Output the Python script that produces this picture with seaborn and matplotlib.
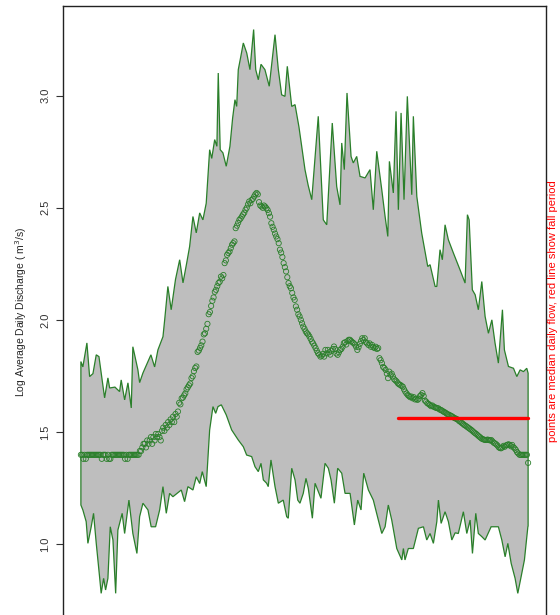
import numpy as np
import pandas as pd
import matplotlib
matplotlib.use("Agg")
import matplotlib.pyplot as plt
import seaborn as sns

# ---- daily median of log10 discharge (day 1 .. 365) ----
median_flow = [
    1.398, 1.398, 1.380, 1.398, 1.380, 1.398, 1.398, 1.398, 1.398, 1.398,
    1.398, 1.398, 1.398, 1.398, 1.398, 1.398, 1.398, 1.380, 1.398, 1.398,
    1.398, 1.380, 1.398, 1.380, 1.380, 1.398, 1.398, 1.398, 1.398, 1.398,
    1.398, 1.398, 1.398, 1.398, 1.398, 1.398, 1.380, 1.398, 1.380, 1.398,
    1.398, 1.398, 1.398, 1.398, 1.398, 1.398, 1.398, 1.398, 1.415, 1.415,
    1.431, 1.447, 1.447, 1.431, 1.462, 1.447, 1.462, 1.477, 1.447, 1.477,
    1.462, 1.491, 1.477, 1.491, 1.477, 1.462, 1.505, 1.519, 1.505, 1.531,
    1.519, 1.544, 1.531, 1.556, 1.544, 1.568, 1.544, 1.580, 1.568, 1.591,
    1.630, 1.623, 1.650, 1.653, 1.663, 1.672, 1.690, 1.699, 1.708, 1.716,
    1.740, 1.748, 1.771, 1.785, 1.792, 1.857, 1.863, 1.875, 1.886, 1.903,
    1.935, 1.940, 1.960, 1.982, 2.025, 2.035, 2.062, 2.085, 2.100, 2.125,
    2.134, 2.150, 2.164, 2.170, 2.193, 2.185, 2.200, 2.253, 2.265, 2.290,
    2.298, 2.305, 2.320, 2.335, 2.342, 2.350, 2.409, 2.420, 2.433, 2.446,
    2.452, 2.461, 2.470, 2.478, 2.491, 2.500, 2.515, 2.528, 2.520, 2.535,
    2.540, 2.550, 2.560, 2.566, 2.560, 2.525, 2.510, 2.506, 2.500, 2.510,
    2.505, 2.498, 2.490, 2.476, 2.460, 2.431, 2.415, 2.402, 2.385, 2.372,
    2.360, 2.342, 2.313, 2.300, 2.280, 2.253, 2.235, 2.216, 2.190, 2.164,
    2.150, 2.141, 2.120, 2.100, 2.089, 2.060, 2.045, 2.025, 2.015, 2.000,
    1.985, 1.970, 1.960, 1.948, 1.940, 1.935, 1.926, 1.915, 1.903, 1.895,
    1.885, 1.874, 1.862, 1.851, 1.845, 1.836, 1.840, 1.848, 1.836, 1.866,
    1.850, 1.866, 1.855, 1.845, 1.862, 1.870, 1.881, 1.870, 1.850, 1.844,
    1.855, 1.866, 1.870, 1.880, 1.896, 1.900, 1.890, 1.905, 1.911, 1.911,
    1.905, 1.900, 1.896, 1.890, 1.880, 1.866, 1.878, 1.893, 1.905, 1.918,
    1.910, 1.918, 1.900, 1.895, 1.888, 1.895, 1.880, 1.888, 1.878, 1.874,
    1.880, 1.870, 1.874, 1.829, 1.820, 1.807, 1.790, 1.785, 1.777, 1.760,
    1.740, 1.769, 1.755, 1.760, 1.747, 1.735, 1.730, 1.725, 1.717, 1.712,
    1.710, 1.705, 1.702, 1.690, 1.680, 1.672, 1.665, 1.660, 1.655, 1.658,
    1.650, 1.655, 1.645, 1.648, 1.643, 1.648, 1.660, 1.665, 1.673, 1.660,
    1.640, 1.635, 1.628, 1.625, 1.620, 1.615, 1.618, 1.613, 1.610, 1.608,
    1.606, 1.605, 1.600, 1.598, 1.595, 1.591, 1.588, 1.585, 1.580, 1.578,
    1.576, 1.572, 1.570, 1.566, 1.562, 1.560, 1.557, 1.554, 1.548, 1.545,
    1.540, 1.536, 1.531, 1.528, 1.524, 1.520, 1.516, 1.512, 1.508, 1.503,
    1.498, 1.494, 1.490, 1.485, 1.480, 1.476, 1.471, 1.468, 1.466, 1.464,
    1.464, 1.466, 1.464, 1.462, 1.464, 1.458, 1.452, 1.449, 1.445, 1.440,
    1.432, 1.428, 1.427, 1.431, 1.438, 1.434, 1.440, 1.442, 1.445, 1.442,
    1.436, 1.442, 1.432, 1.427, 1.420, 1.410, 1.404, 1.398, 1.398, 1.398,
    1.398, 1.398, 1.398, 1.398, 1.362,
]

# ---- daily maximum envelope (day, log10 discharge) ----
max_day = [
    1, 2.6, 5.9, 8.1, 10.8, 13.5, 15.7, 20.3, 23, 24.4, 28.7, 32.5, 33.8,
    36.6, 39.3, 42, 43.3, 47.4, 48.8, 51.5, 58, 61, 63.7, 67.8, 69.2, 71.8,
    74.5, 78.0, 81.4, 84.1, 87.0, 89.5, 92.2, 94.9, 97.7, 100.3, 103,
    105.8, 107.5, 109.9, 111.7, 112.8, 114.4, 116.6, 119.3, 122.3, 124.5,
    126.4, 127.8, 129.1, 131.0, 133.2, 136.0, 138.6, 141.6, 143.3, 145.4,
    147.6, 150.8, 154.3, 156.5, 159, 161.7, 164.4, 167.1, 169, 172.6,
    175.3, 178.5, 183.4, 186.0, 188.9, 194.2, 198.3, 201.1, 205.6, 209.2,
    211.9, 213.3, 215.4, 217.6, 220.9, 222.7, 225.5, 228.2, 232.3, 236.3,
    239, 241.8, 245.9, 248.6, 250.8, 252.1, 255.3, 257.5, 259.4, 261.6,
    264, 266.7, 270.3, 271.6, 274.4, 278.4, 283.3, 285.2, 289.3, 290.7,
    293.3, 295.2, 297.4, 300.1, 304.2, 309.6, 313.7, 315.6, 317, 319.6,
    321.9, 324.5, 327.3, 330, 332.7, 335.5, 338.1, 340.8, 344.1, 345.7,
    349, 353.1, 355.8, 358.5, 361.2, 363.9, 365,
]
max_flow = [
    1.814, 1.790, 1.897, 1.747, 1.760, 1.844, 1.836, 1.652, 1.741, 1.696,
    1.700, 1.680, 1.732, 1.643, 1.719, 1.607, 1.880, 1.777, 1.720, 1.763,
    1.844, 1.790, 1.866, 1.925, 2.000, 2.149, 2.045, 2.180, 2.268, 2.165,
    2.250, 2.327, 2.461, 2.388, 2.477, 2.446, 2.520, 2.759, 2.720, 2.804,
    2.774, 3.101, 2.759, 2.745, 2.685, 2.774, 2.900, 2.982, 2.952, 3.116,
    3.170, 3.235, 3.190, 3.116, 3.295, 3.116, 3.071, 3.140, 3.116, 3.042,
    3.150, 3.272, 3.116, 3.004, 2.997, 3.131, 2.952, 2.960, 2.860, 2.670,
    2.600, 2.536, 2.908, 2.446, 2.424, 2.878, 2.595, 2.513, 2.789, 2.670,
    3.012, 2.729, 2.700, 2.729, 2.640, 2.633, 2.670, 2.491, 2.752, 2.580,
    2.461, 2.372, 2.707, 2.566, 2.930, 2.491, 2.923, 2.536, 2.997, 2.558,
    2.908, 2.551, 2.387, 2.238, 2.246, 2.149, 2.149, 2.313, 2.268, 2.424,
    2.357, 2.298, 2.223, 2.164, 2.469, 2.446, 2.134, 2.112, 2.045, 2.171,
    2.015, 1.940, 2.000, 1.896, 1.807, 2.045, 1.866, 1.792, 1.784, 1.747,
    1.777, 1.769, 1.784, 1.762,
]

# ---- daily minimum envelope (day, log10 discharge) ----
min_day = [
    1, 2.6, 5.3, 6.7, 9.4, 11.3, 13.5, 16.2, 17.5, 19.5, 21.1, 23, 24.9,
    27.1, 29.3, 31.1, 34.6, 36.6, 40.1, 43.3, 46.6, 48.8, 51.5, 55.6, 58.2,
    61.8, 65.1, 67.8, 70.5, 73.2, 75.9, 82.7, 85.4, 88.1, 92.2, 94.9, 97.7,
    99.8, 103, 105.8, 108.5, 110.7, 112.6, 115.3, 119.3, 123.7, 129.1,
    133.2, 135.9, 140, 142.7, 145.4, 147.6, 149.5, 152.2, 153.5, 155.7,
    159, 161.7, 165.7, 168.5, 169.8, 172.6, 175.3, 177.5, 179.3, 182,
    184.2, 186.1, 189.4, 191.6, 196.4, 199.7, 202.4, 204.6, 207.3, 210,
    213.3, 216, 220.1, 223.6, 226.3, 229, 231.2, 235, 239, 243.1, 245.9,
    248.6, 251.2, 254, 258.1, 262.2, 263.5, 264.8, 267.5, 271.6, 275.7,
    279.8, 282.5, 285.2, 287.9, 290.7, 292, 294.2, 297.4, 300.1, 302.9,
    305.6, 308.2, 312.3, 315.1, 317.8, 319.7, 322.4, 324.5, 327.3, 330,
    334.9, 340.8, 343.6, 346.3, 348.5, 351.2, 354.4, 356.6, 359.3, 362,
    364.8, 365,
]
min_flow = [
    1.174, 1.152, 1.100, 1.003, 1.077, 1.137, 1.003, 0.854, 0.780, 0.847,
    0.795, 0.847, 1.077, 1.018, 0.780, 1.062, 1.137, 1.047, 1.196, 1.047,
    0.958, 1.122, 1.182, 1.152, 1.077, 1.077, 1.152, 1.256, 1.137, 1.226,
    1.211, 1.241, 1.189, 1.256, 1.241, 1.300, 1.270, 1.323, 1.256, 1.509,
    1.613, 1.583, 1.613, 1.621, 1.576, 1.509, 1.464, 1.434, 1.397, 1.390,
    1.345, 1.323, 1.360, 1.286, 1.271, 1.256, 1.375, 1.256, 1.182, 1.196,
    1.122, 1.115, 1.338, 1.286, 1.196, 1.182, 1.226, 1.293, 1.248, 1.115,
    1.271, 1.204, 1.360, 1.338, 1.286, 1.182, 1.338, 1.316, 1.226, 1.226,
    1.085, 1.196, 1.152, 1.316, 1.241, 1.196, 1.107, 1.047, 1.077, 1.174,
    1.107, 0.980, 0.929, 0.980, 0.929, 0.980, 0.980, 1.070, 1.077, 1.018,
    1.047, 1.003, 1.100, 1.196, 1.092, 1.144, 1.100, 1.018, 1.050, 1.047,
    1.144, 1.047, 1.107, 0.958, 1.137, 1.047, 1.033, 1.018, 1.077, 1.077,
    1.018, 0.943, 1.003, 0.914, 0.847, 0.780, 0.854, 0.929, 1.077, 1.080,
]

# ---- fall period median ----
fall_days = [259, 365]
fall_median = 1.564

y_ticks = [1.0, 1.5, 2.0, 2.5, 3.0]

sns.set_style("white")
plt.rcParams["font.family"] = ["Liberation Sans", "DejaVu Sans"]

days = np.arange(1, len(median_flow) + 1)
df = pd.DataFrame({"day": days, "median": median_flow})

line_green = "#2A7F2A"

W, H, DPI = 560, 615, 100
fig = plt.figure(figsize=(W / DPI, H / DPI), dpi=DPI)
left_px, right_px, top_px, bottom_px = 63, 546, 6, 618
ax = fig.add_axes([left_px / W, 1 - bottom_px / H,
                   (right_px - left_px) / W, (bottom_px - top_px) / H])

# min/max envelope as one closed polygon
poly_x = np.concatenate([max_day, min_day[::-1]])
poly_y = np.concatenate([max_flow, min_flow[::-1]])
ax.fill(poly_x, poly_y, facecolor="#BEBEBE", edgecolor=line_green,
        linewidth=0.9, zorder=1)

# daily medians as open circles
sns.scatterplot(data=df, x="day", y="median", ax=ax, marker="o",
                facecolors="none", edgecolor=line_green, linewidth=0.6,
                s=14, zorder=3, legend=False)

# fall-period median as a red segment
sns.lineplot(x=fall_days, y=[fall_median, fall_median], ax=ax,
             color="#FF0000", linewidth=2.4, zorder=4)

ax.set_xlim(-13.56, 379.56)
ax.set_ylim(0.67, 3.40)
ax.set_yticks(y_ticks)
ax.set_yticklabels([f"{t:.1f}" for t in y_ticks], rotation=90,
                   va="center", fontsize=8)
ax.set_xticks([])
ax.set_xlabel("")
ax.set_ylabel("Log Average Daily Discharge ( m$^3$/s)", fontsize=7.5,
              labelpad=8.5)
ax.tick_params(axis="y", direction="out", length=5, width=0.8,
               left=True, pad=4, colors="#333333")
for s in ax.spines.values():
    s.set_color("#222222")
    s.set_linewidth(1.0)

fig.text(553 / W, 1 - 311 / H,
         "points are median daily flow, red line show fall period",
         rotation=90, color="#FF0000", fontsize=8,
         ha="center", va="center")

fig.savefig("out.png", dpi=DPI)
